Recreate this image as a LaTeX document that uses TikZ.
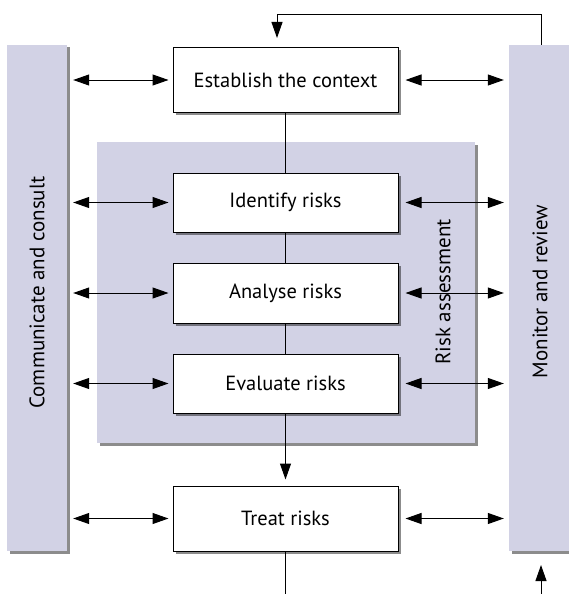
\documentclass[tikz,border=0pt]{standalone}
\usepackage{fontspec}
\setmainfont{PT Sans}
\usetikzlibrary{arrows.meta,shadows,calc}
\definecolor{lav}{RGB}{210,210,229}
\begin{document}
\begin{tikzpicture}[x=1pt,y=-1pt,
  shade/.style={drop shadow={shadow xshift=2.5pt,shadow yshift=-2.5pt,fill=black,opacity=.45}},
  bar/.style={fill=lav,draw=none,shade,inner sep=0pt},
  stepbox/.style={draw=black,line width=1pt,fill=white,shade,minimum width=225pt,inner sep=0pt,font=\fontsize{20.5}{24}\selectfont},
  lbl/.style={font=\fontsize{21}{24}\selectfont,inner sep=0pt},
  dbl/.style={{Triangle[length=16pt,width=11pt]}-{Triangle[length=16pt,width=11pt]},line width=1pt},
  one/.style={-{Triangle[length=16pt,width=11pt]},line width=1pt},
  conn/.style={line width=1pt}]
\useasboundingbox (0,0) rectangle (569,594);
% bars
\node[bar,minimum width=60pt,minimum height=506pt] (lbar) at (37,298) {};
\node[bar,minimum width=60pt,minimum height=506pt] (rbar) at (539,298) {};
\node[bar,minimum width=378pt,minimum height=301pt] (ra) at (286,292.5) {};
\node[lbl,rotate=90] (tcc) at (37,292.5) {Communicate and consult};
\node[lbl,rotate=90] (tmr) at (540,291.5) {Monitor and review};
\node[lbl,rotate=90] (tra) at (443,292) {Risk assessment};
% boxes
\node[stepbox,minimum height=64pt] (est) at (285.5,80) {Establish the context};
\node[stepbox,minimum height=59pt] (idr) at (285.5,202.5) {Identify risks};
\node[stepbox,minimum height=60pt] (anr) at (285.5,293) {Analyse risks};
\node[stepbox,minimum height=59pt] (evr) at (285.5,383.5) {Evaluate risks};
\node[stepbox,minimum height=65pt] (trr) at (285.5,518.5) {Treat risks};
% vertical connectors
\draw[conn] (est.south) -- (idr.north);
\draw[conn] (idr.south) -- (anr.north);
\draw[conn] (anr.south) -- (evr.north);
\draw[one,shorten >=6pt] (evr.south) -- (trr.north);
\coordinate (bot) at (285.5,594);
\draw[conn] (trr.south) -- (bot);
% feedback
\coordinate (fb1) at (541,14.5);
\coordinate (fb2) at (277,14.5);
\coordinate (fb3) at (277,38);
\draw[one,line join=miter] (rbar.north -| fb1) -- (fb1) -- (fb2) -- (fb3);
\coordinate (br0) at (541,594);
\coordinate (br1) at (541,565);
\draw[one] (br0) -- (br1);
% horizontal arrows
\foreach \n in {est,idr,anr,evr,trr}{
  \draw[dbl,shorten <=6pt,shorten >=4pt] (lbar.east |- \n.west) -- (\n.west);
  \draw[dbl,shorten <=7pt,shorten >=5pt] (\n.east) -- (rbar.west |- \n.east);
}
\end{tikzpicture}
\end{document}
